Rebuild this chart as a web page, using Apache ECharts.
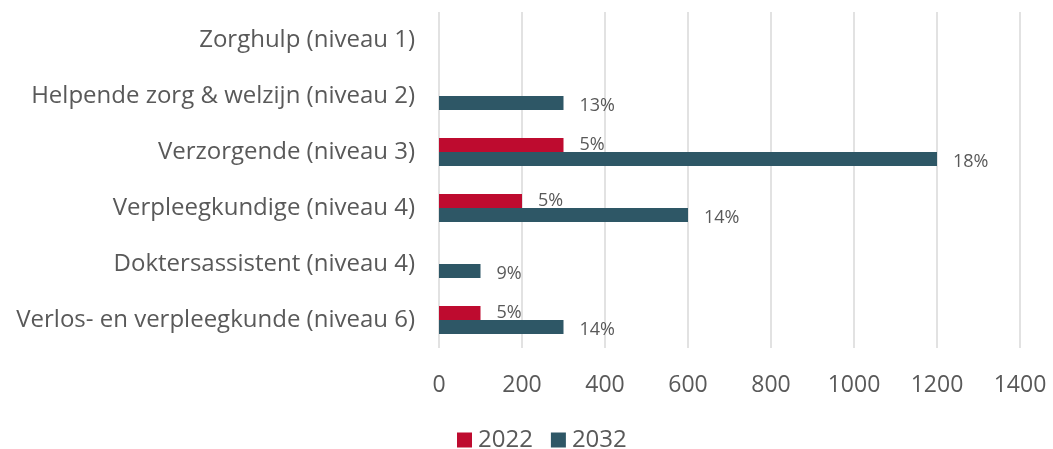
<!DOCTYPE html>
<html>
<head>
<meta charset="utf-8">
<script src="https://cdn.jsdelivr.net/npm/echarts@6/dist/echarts.min.js"></script>
<style>
  html, body { margin: 0; padding: 0; background: #fff; }
  #chart { width: 1053px; height: 449px; }
</style>
</head>
<body>
<div id="chart"></div>
<script>
// categories (top to bottom)
const categories = [
  'Zorghulp (niveau 1)',
  'Helpende zorg & welzijn (niveau 2)',
  'Verzorgende (niveau 3)',
  'Verpleegkundige (niveau 4)',
  'Doktersassistent (niveau 4)',
  'Verlos- en verpleegkunde (niveau 6)'
]
const values2022 = [0, 0, 300, 200, 0, 100]
const values2032 = [0, 300, 1200, 600, 100, 300]
const labels2022 = ['', '', '5%', '5%', '', '5%']
const labels2032 = ['', '13%', '18%', '14%', '9%', '14%']

const chart = echarts.init(document.getElementById('chart'))

const font = '"Open Sans", "Noto Sans", sans-serif'

const option = {
  animation: false,
  grid: { left: 439, right: 33, top: 12, bottom: 101 },
  legend: {
    top: 428,
    left: 457,
    padding: 0,
    itemWidth: 15,
    itemHeight: 15,
    itemGap: 18,
    icon: 'rect',
    textStyle: {
      fontFamily: font, fontSize: 24, color: '#595959',
      lineHeight: 24, padding: [0, 0, 0, 1]
    },
    data: ['2022', '2032']
  },
  xAxis: {
    type: 'value',
    min: 0,
    max: 1400,
    interval: 200,
    axisLine: { show: false },
    axisTick: { show: false },
    splitLine: { lineStyle: { color: '#d9d9d9', width: 1.5 } },
    axisLabel: {
      fontFamily: font, fontSize: 23, color: '#595959', margin: 26,
      formatter: v => String(v)
    }
  },
  yAxis: {
    type: 'category',
    inverse: true,
    data: categories,
    axisLine: { show: false },
    axisTick: { show: false },
    axisLabel: { fontFamily: font, fontSize: 24, color: '#595959', margin: 24 }
  },
  series: [
    {
      name: '2022',
      type: 'bar',
      data: values2022,
      barWidth: 14,
      barGap: '0%',
      itemStyle: { color: '#BE0B2F' },
      label: {
        show: true,
        position: 'right',
        distance: 16,
        fontFamily: font,
        fontSize: 18,
        color: '#595959',
        formatter: p => labels2022[p.dataIndex]
      }
    },
    {
      name: '2032',
      type: 'bar',
      data: values2032,
      barWidth: 14,
      barGap: '0%',
      itemStyle: { color: '#2E5766' },
      label: {
        show: true,
        position: 'right',
        distance: 16,
        offset: [0, 3],
        fontFamily: font,
        fontSize: 18,
        color: '#595959',
        formatter: p => labels2032[p.dataIndex]
      }
    }
  ]
}

chart.setOption(option)
</script>
</body>
</html>
